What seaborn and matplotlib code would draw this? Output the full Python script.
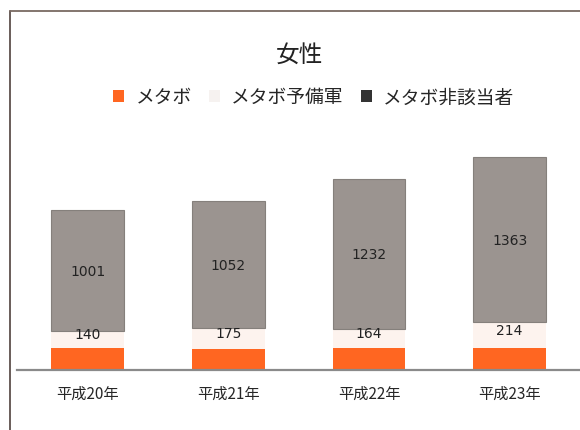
import pandas as pd
import matplotlib.pyplot as plt
import seaborn as sns
from matplotlib.patches import Patch
from matplotlib.lines import Line2D

sns.set_style("white")
plt.rcParams['font.family'] = ['Noto Sans CJK JP', 'DejaVu Sans']

# Data
years = ["平成20年", "平成21年", "平成22年", "平成23年"]
metabo = [176, 168, 176, 177]          # labels hidden in the original
yobigun = [140, 175, 164, 214]
higaitou = [1001, 1052, 1232, 1363]

df = pd.DataFrame({"year": years, "metabo": metabo,
                   "yobigun": yobigun, "higaitou": higaitou})
bottom2 = df["metabo"]
bottom3 = df["metabo"] + df["yobigun"]

c_orange = "#ff6621"
c_light = "#fdf3ee"
c_grey = "#9b9490"

fig = plt.figure(figsize=(5.8, 4.31), dpi=100)
ax = fig.add_axes([0.0298, 0.1399, 0.9702, 0.5817])

sns.barplot(data=df, x="year", y="metabo", color=c_orange, width=0.515,
            saturation=1, ax=ax, edgecolor="none")
sns.barplot(data=df, x="year", y="yobigun", bottom=bottom2, color=c_light,
            width=0.515, saturation=1, ax=ax, edgecolor="none")
sns.barplot(data=df, x="year", y="higaitou", bottom=bottom3, color=c_grey,
            width=0.515, saturation=1, ax=ax, edgecolor="#85807c", linewidth=0.8)

num_font = dict(fontsize=10, color="#222222", family="DejaVu Sans")
for i in range(len(years)):
    ax.annotate(str(yobigun[i]), (i, bottom2[i] + yobigun[i] / 2),
                xytext=(0, 4), textcoords="offset points",
                ha="center", va="center", **num_font)
    ax.text(i, bottom3[i] + higaitou[i] / 2, str(higaitou[i]),
            ha="center", va="center", **num_font)

ax.set_ylim(0, 2072)
ax.set_xlim(-0.5, 3.5)
ax.set_xlabel("")
ax.set_ylabel("")
ax.set_yticks([])
ax.tick_params(axis="x", length=0, labelsize=11, pad=11)
for s in ["top", "right", "left"]:
    ax.spines[s].set_visible(False)
ax.spines["bottom"].set_color("#8a8a8a")
ax.spines["bottom"].set_linewidth(1.6)

fig.text(0.516, 0.872, "女性", ha="center", va="center", fontsize=17, color="#222222")

handles = [Patch(facecolor=c_orange, edgecolor="none"),
           Patch(facecolor="#f6f2f0", edgecolor="none"),
           Patch(facecolor="#333333", edgecolor="none")]
fig.legend(handles, ["メタボ", "メタボ予備軍", "メタボ非該当者"], ncol=3,
           loc="center", bbox_to_anchor=(0.541, 0.773), frameon=False,
           fontsize=13.5, handlelength=0.6, handleheight=0.6,
           handletextpad=0.6, columnspacing=0.9)

# outer frame (left and top edges visible)
fig.add_artist(Line2D([10 / 580, 10 / 580], [0, 1 - 12 / 431],
                      color="#5e504c", linewidth=1.3, transform=fig.transFigure))
fig.add_artist(Line2D([10 / 580, 1], [1 - 12 / 431, 1 - 12 / 431],
                      color="#7a6a62", linewidth=1.3, transform=fig.transFigure))

fig.savefig("out.png", dpi=100)
